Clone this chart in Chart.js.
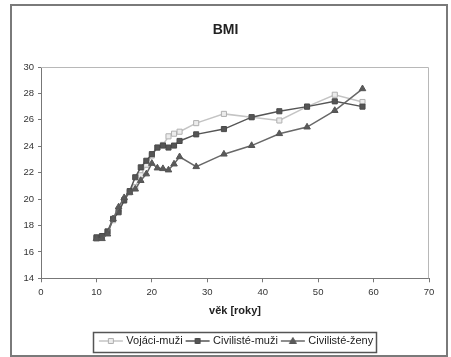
<!DOCTYPE html>
<html>
<head>
<meta charset="utf-8">
<script src="https://cdn.jsdelivr.net/npm/chart.js@4/dist/chart.umd.min.js"></script>
<style>
  html, body { margin: 0; padding: 0; background: #ffffff; }
  #c { display: block; }
</style>
</head>
<body>
<canvas id="c" width="451" height="357"></canvas>
<script>
// ---- data ----
const chartTitle = "BMI";
const xAxisTitle = "věk [roky]";
const seriesNames = ["Vojáci-muži", "Civilisté-muži", "Civilisté-ženy"];
const ages = [10, 11, 12, 13, 14, 15, 16, 17, 18, 19, 20, 21, 22, 23, 24, 25, 28, 33, 38, 43, 48, 53, 58];
const vojaciMuzi    = [17.0, 17.1, 17.5, 18.4, 19.2, 19.9, 20.5, 20.9, 21.8, 22.6, 23.3, 23.9, 24.1, 24.75, 24.95, 25.1, 25.75, 26.45, 26.2, 25.95, 27.0, 27.9, 27.35];
const civilisteMuzi = [17.1, 17.2, 17.55, 18.5, 19.0, 19.9, 20.6, 21.65, 22.4, 22.9, 23.4, 23.9, 24.05, 23.9, 24.05, 24.4, 24.9, 25.3, 26.2, 26.65, 27.0, 27.4, 27.0];
const civilisteZeny = [17.0, 17.0, 17.35, 18.5, 19.4, 20.1, 20.5, 20.75, 21.4, 21.9, 22.7, 22.35, 22.3, 22.2, 22.65, 23.2, 22.45, 23.4, 24.05, 24.95, 25.45, 26.7, 28.35];
const xTicks = { min: 0, max: 70, step: 10 };
const yTicks = { min: 14, max: 30, step: 2 };

// ---- styles ----
const styles = [
  { line: '#c4c4c4', border: '#b0b0b0', fill: '#ececec', shape: 'rect', order: 3 },
  { line: '#555555', border: '#4a4a4a', fill: '#555555', shape: 'rect', order: 2 },
  { line: '#686868', border: '#555555', fill: '#5a5a5a', shape: 'triangle', order: 1 }
];
const seriesValues = [vojaciMuzi, civilisteMuzi, civilisteZeny];

Chart.defaults.font.family = "'Liberation Sans', Arial, sans-serif";
Chart.defaults.color = '#333333';

function toPoints(vals) { return ages.map((a, i) => ({ x: a, y: vals[i] })); }

// legend sample images: line with marker in middle
function makeSample(st) {
  const cv = document.createElement('canvas');
  cv.width = 30; cv.height = 10;
  const c = cv.getContext('2d');
  c.strokeStyle = st.line; c.lineWidth = 1.5;
  c.beginPath(); c.moveTo(5, 5); c.lineTo(29, 5); c.stroke();
  c.fillStyle = st.fill; c.strokeStyle = st.border; c.lineWidth = 1;
  c.beginPath();
  if (st.shape === 'rect') { c.rect(14.5, 2.5, 5, 5); }
  else { c.moveTo(17, 1.5); c.lineTo(20.5, 7.5); c.lineTo(13.5, 7.5); c.closePath(); }
  c.fill(); c.stroke();
  return cv;
}
const samples = styles.map(makeSample);

const datasets = seriesNames.map((name, i) => ({
  label: name,
  data: toPoints(seriesValues[i]),
  borderColor: styles[i].line,
  backgroundColor: styles[i].fill,
  pointBackgroundColor: styles[i].fill,
  pointBorderColor: styles[i].border,
  pointBorderWidth: 1,
  pointStyle: styles[i].shape,
  pointRadius: styles[i].shape === 'rect' ? 3.6 : 3.8,
  borderWidth: 1.5,
  tension: 0,
  showLine: true,
  fill: false,
  order: styles[i].order
}));

const framePlugin = {
  id: 'frames',
  beforeDatasetsDraw(chart) {
    const { ctx, chartArea: a } = chart;
    ctx.save();
    ctx.strokeStyle = '#b8b8b8';
    ctx.lineWidth = 1;
    ctx.beginPath();
    ctx.moveTo(a.left, a.top + 0.5);
    ctx.lineTo(a.right - 0.5, a.top + 0.5);
    ctx.lineTo(a.right - 0.5, a.bottom);
    ctx.stroke();
    ctx.restore();
  },
  afterDraw(chart) {
    const ctx = chart.ctx;
    ctx.save();
    // outer chart frame
    ctx.strokeStyle = '#7a7a7a';
    ctx.lineWidth = 2;
    ctx.strokeRect(11, 5, 436, 351);
    // legend frame
    const hb = chart.legend.legendHitBoxes;
    if (hb && hb.length) {
      const l = Math.min(...hb.map(h => h.left)) - 4;
      const r = Math.max(...hb.map(h => h.left + h.width)) + 3;
      const t = Math.min(...hb.map(h => h.top)) - 3.5;
      const b = Math.max(...hb.map(h => h.top + h.height)) + 5.5;
      ctx.strokeStyle = '#555555';
      ctx.lineWidth = 1.5;
      ctx.strokeRect(Math.round(l) + 0.5, Math.round(t) + 0.5, Math.round(r - l), Math.round(b - t));
    }
    ctx.restore();
  }
};

new Chart(document.getElementById('c'), {
  type: 'line',
  data: { datasets },
  options: {
    responsive: false,
    animation: false,
    layout: { padding: { left: 22, right: 22, top: 0, bottom: 0.5 } },
    plugins: {
      tooltip: { enabled: false },
      title: {
        display: true,
        text: chartTitle,
        color: '#222222',
        font: { size: 14, weight: 'bold' },
        padding: { top: 21.6, bottom: 28.6 }
      },
      legend: {
        position: 'bottom',
        fullSize: false,
        labels: {
          color: '#222222',
          font: { size: 11 },
          usePointStyle: true,
          pointStyleWidth: 24,
          padding: 1,
          sort: (a, b) => a.datasetIndex - b.datasetIndex,
          generateLabels(chart) {
            const items = Chart.defaults.plugins.legend.labels.generateLabels(chart);
            items.forEach(it => { it.pointStyle = samples[it.datasetIndex]; it.fontColor = '#222222'; });
            return items;
          }
        }
      }
    },
    scales: {
      x: {
        type: 'linear',
        min: xTicks.min, max: xTicks.max,
        ticks: { stepSize: xTicks.step, font: { size: 9.5 }, color: '#333333', padding: 4, maxRotation: 0 },
        grid: { drawOnChartArea: false, drawTicks: true, tickLength: 4, color: '#777777' },
        border: { color: '#777777', width: 1 },
        title: { display: true, text: xAxisTitle, color: '#222222', font: { size: 11, weight: 'bold' }, padding: { top: 0, bottom: 16.9 } },
        afterFit(s) { s.height = 56.2; }
      },
      y: {
        type: 'linear',
        min: yTicks.min, max: yTicks.max,
        ticks: { stepSize: yTicks.step, font: { size: 9.5 }, color: '#333333', padding: 4 },
        grid: { drawOnChartArea: false, drawTicks: true, tickLength: 3, color: '#777777' },
        border: { color: '#777777', width: 1 },
        afterFit(s) { s.width = 19; }
      }
    }
  },
  plugins: [framePlugin]
});
</script>
</body>
</html>
